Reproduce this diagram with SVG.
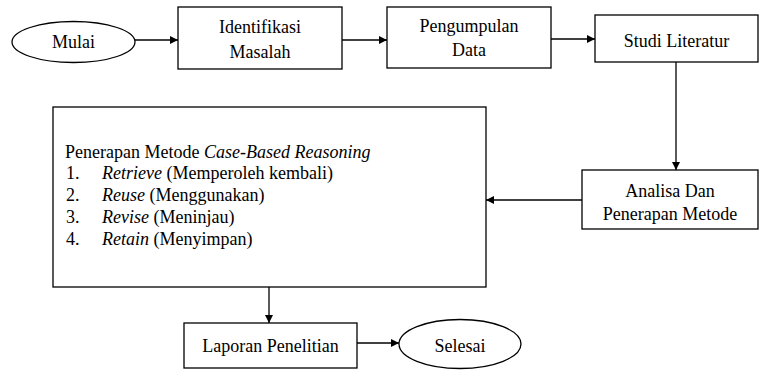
<svg xmlns="http://www.w3.org/2000/svg" width="759" height="370" viewBox="0 0 759 370">
<style>
.n{fill:#fff;stroke:#000;stroke-width:1.3}
.t{font-size:18px;fill:#000}
.c{text-anchor:middle}
.e{stroke:#000;stroke-width:1.3;fill:none;marker-end:url(#ah)}
</style>
<defs>
<marker id="ah" viewBox="0 0 10 10" refX="10" refY="5" markerUnits="userSpaceOnUse" markerWidth="9" markerHeight="8" orient="auto">
<path d="M0,0 L10,5 L0,10 z" fill="#000"/>
</marker>
</defs>
<rect width="759" height="370" fill="#fff"/>
<g font-family="Liberation Serif, serif">
<g id="mulai">
<ellipse class="n" cx="73.5" cy="42" rx="61.5" ry="20.5"/>
<text class="t c" x="73.5" y="48">Mulai</text>
</g>
<g id="identifikasi">
<rect class="n" x="178" y="7" width="164" height="62"/>
<text class="t c" x="260" y="33">Identifikasi</text>
<text class="t c" x="260" y="58">Masalah</text>
</g>
<g id="pengumpulan">
<rect class="n" x="387" y="7" width="164" height="61"/>
<text class="t c" x="469" y="32">Pengumpulan</text>
<text class="t c" x="469" y="56">Data</text>
</g>
<g id="studi">
<rect class="n" x="595" y="15" width="163" height="47"/>
<text class="t c" x="676.5" y="47">Studi Literatur</text>
</g>
<g id="analisa">
<rect class="n" x="582" y="170" width="176" height="59"/>
<text class="t c" x="670" y="197">Analisa Dan</text>
<text class="t c" x="670" y="220">Penerapan Metode</text>
</g>
<g id="penerapan">
<rect class="n" x="53" y="107" width="433" height="180"/>
<text class="t" x="65" y="158">Penerapan Metode <tspan font-style="italic">Case-Based Reasoning</tspan></text>
<text class="t" x="66" y="179">1.</text><text class="t" x="102" y="179"><tspan font-style="italic">Retrieve</tspan> (Memperoleh kembali)</text>
<text class="t" x="66" y="201">2.</text><text class="t" x="102" y="201"><tspan font-style="italic">Reuse</tspan> (Menggunakan)</text>
<text class="t" x="66" y="223">3.</text><text class="t" x="102" y="223"><tspan font-style="italic">Revise</tspan> (Meninjau)</text>
<text class="t" x="66" y="245">4.</text><text class="t" x="102" y="245"><tspan font-style="italic">Retain</tspan> (Menyimpan)</text>
</g>
<g id="laporan">
<rect class="n" x="184" y="323" width="173" height="45"/>
<text class="t c" x="270.5" y="352">Laporan Penelitian</text>
</g>
<g id="selesai">
<ellipse class="n" cx="460" cy="344" rx="61" ry="24.5"/>
<text class="t c" x="460" y="352">Selesai</text>
</g>
</g>
<g id="connectors">
<path class="e" d="M135,40 H178"/>
<path class="e" d="M342,40 H387"/>
<path class="e" d="M551,39 H595"/>
<path class="e" d="M676,62 V170"/>
<path class="e" d="M582,200 H486"/>
<path class="e" d="M269,287 V323"/>
<path class="e" d="M357,343 H399"/>
</g>
</svg>
